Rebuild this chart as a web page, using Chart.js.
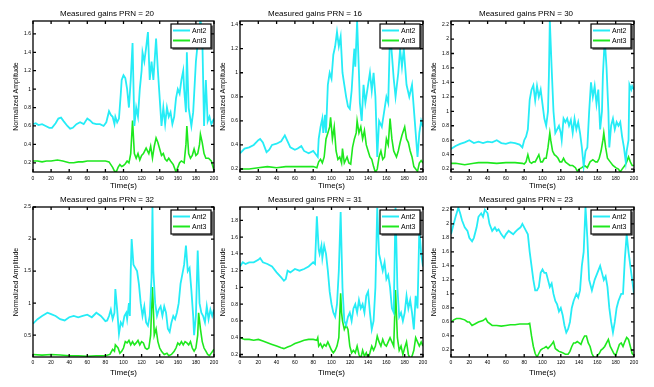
<!DOCTYPE html>
<html><head><meta charset="utf-8">
<script src="https://cdn.jsdelivr.net/npm/chart.js@4.4.0/dist/chart.umd.min.js"></script>
<style>
html,body{margin:0;padding:0;background:#fff;}
body{width:654px;height:387px;position:relative;overflow:hidden;}
canvas{position:absolute;}
</style>
</head><body>
<script>
// ---------- DATA (time in s, normalized amplitude) ----------
const xTicks = [0,20,40,60,80,100,120,140,160,180,200];
const titles = ['Measured gains PRN = 20','Measured gains PRN = 16','Measured gains PRN = 30',
                'Measured gains PRN = 32','Measured gains PRN = 31','Measured gains PRN = 23'];
const seriesNames = ['Ant2','Ant3'];

const yTicks20 = [0.2,0.4,0.6,0.8,1,1.2,1.4,1.6];
const yTicks16 = [0.2,0.4,0.6,0.8,1,1.2,1.4];
const yTicks30 = [0.2,0.4,0.6,0.8,1,1.2,1.4,1.6,1.8,2,2.2];
const yTicks32 = [0.5,1,1.5,2,2.5];
const yTicks31 = [0.2,0.4,0.6,0.8,1,1.2,1.4,1.6,1.8];
const yTicks23 = [0.2,0.4,0.6,0.8,1,1.2,1.4,1.6,1.8,2,2.2];
const yRange20 = [0.1,1.74], yRange16 = [0.175,1.43], yRange30 = [0.16,2.25];
const yRange32 = [0.16,2.5], yRange31 = [0.17,1.96], yRange23 = [0.1,2.24];

const prn20Ant2 = [[0,.62],[3,.63],[6,.61],[10,.62],[14,.60],[18,.58],[21,.58],[25,.63],[28,.68],[31,.69],[34,.65],[38,.60],[41,.57],[44,.58],[48,.62],[52,.64],[56,.62],[60,.68],[63,.66],[66,.63],[70,.62],[74,.62],[78,.60],[81,.64],[84,.76],[86,.72],[88,.70],[90,.62],[91,.70],[93,.64],[95,.68],[97,.95],[98,1.10],[100,1.15],[102,1.12],[104,1.00],[106,.80],[107,.95],[108,1.10],[110,1.50],[112,.60],[114,.80],[116,.70],[118,1.00],[120,1.20],[121,1.40],[123,1.30],[125,1.45],[127,1.62],[129,1.10],[131,1.30],[133,1.10],[136,1.55],[138,1.20],[140,.90],[142,.60],[144,.80],[146,.62],[148,.80],[150,.70],[152,.75],[154,.62],[156,.70],[158,.90],[160,1.00],[162,.95],[164,1.10],[166,1.20],[167,1.00],[169,.75],[170,1.40],[172,.80],[175,.60],[177,.75],[180,1.30],[182,1.50],[185,1.75],[187,1.60],[189,.60],[191,1.10],[193,.65],[195,.70],[197,.62],[200,.68]];
const prn20Ant3 = [[0,.22],[5,.22],[10,.21],[15,.22],[20,.22],[27,.23],[33,.22],[40,.20],[45,.20],[50,.21],[55,.21],[60,.22],[70,.22],[80,.22],[84,.21],[86,.18],[88,.15],[90,.11],[92,.10],[94,.15],[96,.18],[98,.16],[100,.17],[102,.19],[104,.22],[106,.20],[108,.30],[110,.66],[112,.30],[114,.25],[116,.30],[118,.23],[120,.28],[122,.30],[125,.36],[128,.30],[130,.38],[132,.25],[134,.38],[136,.47],[138,.42],[140,.35],[142,.28],[144,.30],[146,.24],[148,.22],[150,.25],[152,.22],[155,.18],[158,.10],[160,.15],[162,.20],[164,.22],[167,.20],[169,.40],[170,.60],[172,.30],[174,.25],[176,.28],[178,.35],[180,.28],[182,.30],[184,.40],[185,.51],[187,.42],[189,.30],[191,.25],[194,.25],[197,.22],[200,.12]];

const prn16Ant2 = [[0,.33],[5,.37],[10,.38],[15,.40],[20,.44],[22,.45],[25,.42],[29,.34],[32,.36],[35,.40],[40,.41],[45,.43],[49,.48],[52,.43],[55,.38],[60,.36],[63,.37],[67,.39],[70,.35],[75,.33],[80,.35],[83,.32],[85,.30],[86,.45],[88,.55],[90,.62],[91,.50],[93,.65],[94,.50],[96,.90],[98,1.00],[100,.95],[102,1.15],[104,1.22],[106,1.34],[108,1.22],[110,1.30],[112,1.00],[114,.90],[116,.80],[118,.72],[120,.70],[122,.85],[124,1.10],[125,1.20],[126,1.05],[128,1.43],[130,1.00],[131,.75],[133,.60],[135,.90],[137,.75],[139,.85],[142,1.00],[144,.85],[146,1.00],[148,.80],[150,.30],[152,.60],[155,.55],[158,.70],[160,.80],[162,.75],[164,1.35],[166,1.15],[168,.95],[170,.80],[173,1.00],[175,1.20],[177,1.05],[179,1.20],[182,.90],[185,.80],[188,.90],[190,.70],[192,.50],[194,.30],[196,.50],[198,.60],[200,.55]];
const prn16Ant3 = [[0,.20],[5,.20],[10,.20],[20,.21],[30,.22],[40,.21],[50,.22],[60,.22],[70,.22],[80,.22],[84,.21],[86,.26],[88,.28],[90,.25],[92,.30],[94,.45],[96,.50],[98,.55],[99,.63],[101,.45],[103,.55],[105,.35],[107,.28],[109,.30],[111,.25],[112,.37],[114,.25],[117,.30],[119,.25],[121,.24],[123,.38],[125,.45],[127,.50],[128,.60],[130,.50],[132,.55],[134,.45],[136,.52],[138,.40],[140,.35],[142,.30],[144,.28],[146,.22],[148,.17],[150,.20],[152,.30],[154,.35],[156,.28],[158,.30],[160,.45],[162,.40],[164,.62],[166,.45],[168,.35],[171,.30],[173,.35],[175,.42],[177,.48],[180,.55],[182,.45],[184,.42],[186,.35],[188,.30],[190,.22],[192,.20],[194,.18],[196,.25],[198,.27],[200,.25]];

const prn30Ant2 = [[0,.48],[5,.52],[10,.55],[15,.57],[20,.60],[25,.56],[30,.58],[35,.56],[40,.58],[45,.57],[50,.60],[55,.56],[60,.55],[65,.57],[70,.56],[75,.54],[78,.50],[80,.60],[82,.65],[84,.75],[86,1.16],[88,1.30],[90,1.36],[92,1.15],[94,1.35],[96,1.20],[98,1.30],[100,1.10],[102,.90],[104,.80],[106,1.00],[107,1.50],[108,2.26],[110,1.60],[112,1.00],[114,.70],[116,.75],[118,.80],[120,.70],[121,.60],[123,.90],[125,.85],[127,.90],[129,.80],[131,.88],[133,.70],[135,.90],[137,.75],[139,.85],[141,.70],[143,.50],[145,.24],[147,.45],[149,.50],[151,1.00],[153,1.40],[155,1.20],[157,1.35],[159,1.10],[161,1.30],[163,.75],[165,1.00],[166,1.50],[168,2.00],[170,1.60],[172,1.00],[173,.50],[175,.80],[177,.90],[179,.75],[181,.85],[183,.80],[185,.85],[187,.65],[189,.50],[191,.30],[192,.45],[194,.60],[195,1.37],[197,1.30],[198,1.35],[200,1.30]];
const prn30Ant3 = [[0,.28],[5,.28],[10,.27],[15,.26],[20,.27],[25,.28],[30,.29],[40,.29],[50,.28],[60,.29],[70,.29],[78,.28],[80,.27],[82,.30],[84,.40],[86,.30],[88,.28],[90,.30],[92,.30],[94,.35],[96,.40],[98,.30],[100,.30],[102,.35],[104,.35],[106,.50],[108,.70],[109,.60],[111,.45],[113,.40],[115,.38],[117,.35],[119,.30],[121,.30],[123,.35],[125,.30],[127,.28],[130,.25],[133,.25],[136,.22],[138,.17],[140,.20],[143,.22],[146,.25],[149,.22],[152,.30],[155,.33],[158,.30],[160,.30],[162,.35],[164,.45],[166,.60],[167,.70],[169,.50],[171,.35],[174,.30],[177,.25],[180,.22],[183,.20],[185,.16],[187,.20],[190,.25],[192,.30],[194,.37],[196,.30],[198,.25],[200,.25]];

const prn32Ant2 = [[0,.68],[5,.75],[10,.80],[16,.85],[20,.83],[25,.80],[30,.75],[35,.73],[40,.78],[45,.80],[50,.78],[55,.80],[60,.82],[65,.78],[70,.85],[75,.80],[80,.72],[82,.73],[84,.80],[86,.90],[88,.75],[90,.85],[91,1.22],[93,.90],[95,.52],[97,.70],[99,.65],[101,.80],[103,.85],[104,.75],[106,1.00],[107,.80],[108,1.50],[109,2.00],[111,1.60],[113,1.55],[115,1.50],[117,1.30],[119,1.00],[121,.80],[123,.95],[125,.70],[127,.65],[129,.80],[131,1.40],[132,2.50],[133,1.50],[135,1.00],[137,.80],[139,.90],[141,.95],[143,.80],[145,.95],[147,.85],[149,.60],[151,.55],[153,.70],[155,.80],[157,.75],[159,.85],[161,1.00],[163,1.30],[165,1.45],[167,1.60],[169,1.90],[171,1.50],[173,1.55],[175,1.20],[177,.80],[178,.50],[180,.80],[182,1.82],[184,1.00],[186,.85],[188,.80],[190,.70],[192,.95],[194,.75],[196,.90],[198,.80],[200,.90]];
const prn32Ant3 = [[0,.20],[10,.19],[20,.20],[30,.19],[40,.18],[50,.18],[60,.17],[70,.18],[80,.18],[85,.20],[88,.28],[90,.25],[91,.35],[94,.30],[96,.22],[98,.25],[100,.30],[102,.40],[104,.38],[106,.42],[108,.35],[110,.40],[112,.35],[114,.38],[116,.42],[118,.35],[120,.40],[122,.38],[124,.30],[126,.28],[128,.30],[130,.50],[131,.90],[132,1.25],[133,.90],[134,.50],[136,.60],[138,.40],[140,.30],[142,.25],[145,.20],[148,.22],[150,.18],[153,.20],[156,.25],[158,.30],[160,.38],[162,.35],[164,.40],[166,.35],[168,.40],[170,.38],[172,.35],[174,.40],[176,.30],[178,.25],[180,.30],[182,.50],[183,.85],[185,.60],[187,.40],[189,.30],[191,.25],[193,.20],[195,.18],[197,.22],[200,.28]];

const prn31Ant2 = [[0,1.25],[3,1.30],[6,1.28],[10,1.30],[15,1.30],[20,1.33],[22,1.35],[25,1.30],[30,1.28],[35,1.25],[40,1.18],[45,1.12],[48,1.08],[50,1.10],[52,1.20],[55,1.18],[60,1.22],[65,1.20],[70,1.22],[75,1.25],[80,1.30],[82,1.28],[84,1.85],[86,1.45],[87,1.40],[89,1.50],[90,1.35],[92,1.50],[94,1.40],[96,1.20],[98,.95],[100,.80],[102,.70],[104,.65],[106,.80],[108,1.20],[110,1.90],[112,1.00],[114,.60],[116,.55],[118,.65],[120,.70],[122,.60],[124,.75],[126,.80],[128,.70],[130,.85],[132,.75],[134,.80],[136,.70],[138,.90],[140,.95],[142,.70],[144,.50],[146,.60],[148,1.00],[150,1.95],[152,1.40],[154,1.30],[156,1.20],[158,1.30],[160,1.10],[162,1.15],[164,1.00],[166,.75],[168,.70],[170,1.95],[172,1.00],[174,.65],[176,.70],[178,.60],[180,.70],[182,.90],[184,.75],[186,.85],[188,.70],[190,.50],[192,.90],[194,.75],[196,1.70],[198,1.40],[200,1.25]];
const prn31Ant3 = [[0,.40],[5,.38],[10,.38],[15,.37],[20,.38],[25,.36],[30,.34],[35,.32],[40,.30],[45,.28],[48,.27],[52,.29],[55,.30],[60,.33],[65,.35],[70,.37],[75,.38],[80,.38],[84,.37],[85,.40],[86,.30],[88,.33],[90,.28],[92,.32],[94,.30],[96,.35],[98,.30],[100,.25],[102,.22],[104,.25],[106,.30],[108,.40],[110,.93],[111,.70],[112,.60],[114,.50],[116,.55],[118,.50],[120,.30],[122,.22],[124,.25],[126,.22],[128,.30],[130,.20],[132,.15],[134,.25],[136,.18],[138,.22],[140,.15],[142,.22],[144,.30],[146,.25],[148,.30],[150,.42],[152,.35],[154,.30],[156,.38],[158,.32],[160,.30],[162,.35],[164,.40],[166,.35],[168,.30],[170,.97],[172,.40],[174,.25],[176,.30],[178,.20],[180,.28],[182,.35],[184,.20],[186,.15],[188,.18],[190,.25],[192,.40],[194,.35],[196,.30],[198,.35],[200,.30]];

const prn23Ant2 = [[0,1.85],[3,2.00],[5,2.10],[8,2.23],[10,2.15],[12,2.05],[15,1.95],[18,1.90],[20,1.80],[23,1.75],[25,1.80],[28,1.95],[30,2.10],[33,2.15],[35,2.10],[37,2.20],[40,2.15],[42,2.00],[45,1.90],[48,1.95],[50,1.90],[52,1.92],[55,1.85],[58,1.80],[60,1.85],[63,1.90],[65,1.88],[68,1.85],[70,1.88],[73,1.92],[76,1.95],[78,2.00],[80,1.95],[82,1.90],[84,1.85],[86,1.60],[88,1.40],[90,1.20],[92,1.05],[94,1.05],[96,1.10],[98,1.30],[100,1.35],[102,1.30],[104,1.30],[106,1.20],[108,1.10],[110,1.15],[112,1.00],[114,.90],[116,.85],[118,.75],[120,.80],[122,.70],[124,.55],[126,.45],[128,.50],[130,.60],[132,.80],[134,.90],[137,1.00],[139,.95],[141,1.05],[143,1.40],[145,1.60],[147,2.24],[149,1.80],[151,1.20],[154,1.05],[157,1.20],[160,1.30],[163,1.40],[165,1.30],[167,1.20],[169,1.25],[171,1.10],[173,.80],[175,.60],[177,.45],[179,.60],[181,.80],[183,.90],[186,1.00],[188,1.00],[190,1.50],[192,1.85],[194,1.60],[196,1.40],[198,1.20],[200,1.00]];
const prn23Ant3 = [[0,.60],[3,.63],[6,.65],[10,.65],[15,.63],[18,.60],[20,.60],[23,.55],[26,.57],[30,.60],[35,.62],[38,.65],[40,.60],[45,.55],[50,.55],[55,.54],[60,.55],[65,.56],[70,.56],[75,.57],[80,.57],[84,.57],[86,.58],[88,.40],[90,.25],[92,.15],[94,.10],[96,.15],[98,.20],[100,.22],[102,.23],[104,.25],[106,.22],[108,.25],[110,.28],[112,.32],[114,.22],[116,.20],[118,.18],[120,.17],[122,.16],[125,.14],[128,.14],[130,.18],[132,.25],[134,.30],[136,.30],[138,.32],[140,.30],[142,.28],[144,.35],[146,.40],[148,.40],[150,.30],[152,.25],[154,.15],[156,.10],[158,.08],[160,.12],[162,.15],[164,.20],[166,.22],[168,.25],[170,.30],[172,.35],[174,.25],[176,.20],[178,.15],[180,.12],[182,.20],[184,.28],[186,.30],[188,.25],[190,.32],[192,.38],[194,.35],[196,.25],[198,.15],[200,.12]];

// ---------- LAYOUT ----------
const CYAN = 'rgb(38,236,246)';
const GREEN = 'rgb(30,232,30)';
const FONT = '"Liberation Sans", Arial, sans-serif';
const M = 33; // side margin
const panels = [
  {title:titles[0], a2:prn20Ant2, a3:prn20Ant3, yr:yRange20, yt:yTicks20, left:0,   top:0,   w:181, h:151, row:0},
  {title:titles[1], a2:prn16Ant2, a3:prn16Ant3, yr:yRange16, yt:yTicks16, left:207, top:0,   w:183, h:151, row:0},
  {title:titles[2], a2:prn30Ant2, a3:prn30Ant3, yr:yRange30, yt:yTicks30, left:418, top:0,   w:183, h:151, row:0},
  {title:titles[3], a2:prn32Ant2, a3:prn32Ant3, yr:yRange32, yt:yTicks32, left:0,   top:186, w:181, h:150, row:1},
  {title:titles[4], a2:prn31Ant2, a3:prn31Ant3, yr:yRange31, yt:yTicks31, left:207, top:186, w:183, h:150, row:1},
  {title:titles[5], a2:prn23Ant2, a3:prn23Ant3, yr:yRange23, yt:yTicks23, left:418, top:186, w:183, h:150, row:1},
];

const framePlugin = {
  id:'frame',
  afterDatasetsDraw(chart){
    const {ctx, chartArea:a, scales:{x,y}} = chart;
    ctx.save();
    ctx.strokeStyle = '#000';
    ctx.lineWidth = 1.3;
    ctx.strokeRect(a.left, a.top, a.right-a.left, a.bottom-a.top);
    ctx.beginPath();
    x.ticks.forEach(tk=>{
      const px = x.getPixelForValue(tk.value);
      ctx.moveTo(px, a.bottom); ctx.lineTo(px, a.bottom-3);
      ctx.moveTo(px, a.top); ctx.lineTo(px, a.top+3);
    });
    y.ticks.forEach(tk=>{
      const py = y.getPixelForValue(tk.value);
      ctx.moveTo(a.left, py); ctx.lineTo(a.left+3, py);
      ctx.moveTo(a.right, py); ctx.lineTo(a.right-3, py);
    });
    ctx.stroke();
    // legend box
    const lw = 40, lh = 24;
    const lx = a.right - 3 - lw, ly = a.top + 3;
    ctx.fillStyle = '#fff';
    ctx.fillRect(lx, ly, lw, lh);
    ctx.lineWidth = 1.2;
    ctx.strokeRect(lx, ly, lw, lh);
    ctx.beginPath();
    ctx.moveTo(lx+lw+1, ly+1.5); ctx.lineTo(lx+lw+1, ly+lh+1); ctx.lineTo(lx+1.5, ly+lh+1);
    ctx.stroke();
    ctx.font = '7px ' + FONT;
    ctx.textBaseline = 'middle';
    chart.data.datasets.forEach((ds,i)=>{
      const yy = ly + 6.5 + i*10;
      ctx.strokeStyle = ds.borderColor;
      ctx.lineWidth = 2;
      ctx.beginPath(); ctx.moveTo(lx+2, yy); ctx.lineTo(lx+19, yy); ctx.stroke();
      ctx.fillStyle = '#000';
      ctx.fillText(ds.label, lx+21, yy+0.5);
    });
    ctx.restore();
  }
};

const fmt = v => String(parseFloat(Number(v).toFixed(2)));

panels.forEach(p=>{
  const cv = document.createElement('canvas');
  const W = p.w + 2*M, H = p.h + 21 + 24;
  cv.width = W; cv.height = H;
  cv.style.left = p.left + 'px'; cv.style.top = p.top + 'px';
  cv.style.width = W + 'px'; cv.style.height = H + 'px';
  document.body.appendChild(cv);
  new Chart(cv, {
    type:'line',
    data:{datasets:[
      {label:seriesNames[0], data:p.a2.map(d=>({x:d[0], y:d[1]})), borderColor:CYAN, borderWidth:1.8, pointRadius:0, tension:0, clip:0},
      {label:seriesNames[1], data:p.a3.map(d=>({x:d[0], y:d[1]})), borderColor:GREEN, borderWidth:1.6, pointRadius:0, tension:0, clip:0}
    ]},
    options:{
      responsive:false, animation:false, devicePixelRatio:1,
      layout:{padding:{left:0, right:M, top:0, bottom:0}},
      plugins:{
        legend:{display:false}, tooltip:{enabled:false},
        title:{display:true, text:p.title, color:'#000', font:{family:FONT, size:8, weight:'normal'}, padding:{top:8.6, bottom:2.8}}
      },
      scales:{
        x:{type:'linear', min:0, max:200,
          afterBuildTicks: s=>{ s.ticks = xTicks.map(v=>({value:v})); },
          afterFit: s=>{ s.height = 24; },
          ticks:{color:'#000', font:{family:FONT, size:5}, padding: p.row===0 ? 3.5 : 3, maxRotation:0, autoSkip:false, callback:v=>fmt(v)},
          grid:{display:false, drawTicks:false}, border:{display:false},
          title:{display:true, text:'Time(s)', color:'#000', font:{family:FONT, size:8}, padding:{top:0, bottom: p.row===0 ? 5.7 : 3.5}}
        },
        y:{type:'linear', min:p.yr[0], max:p.yr[1],
          afterBuildTicks: s=>{ s.ticks = p.yt.map(v=>({value:v})); },
          afterFit: s=>{ s.width = M; },
          ticks:{color:'#000', font:{family:FONT, size:5}, padding:2, autoSkip:false, callback:v=>fmt(v)},
          grid:{display:false, drawTicks:false}, border:{display:false},
          title:{display:true, text:'Normalized Amplitude', color:'#000', font:{family:FONT, size:7}, padding:{top:11.8, bottom:0}}
        }
      }
    },
    plugins:[framePlugin]
  });
});
</script>
</body></html>
